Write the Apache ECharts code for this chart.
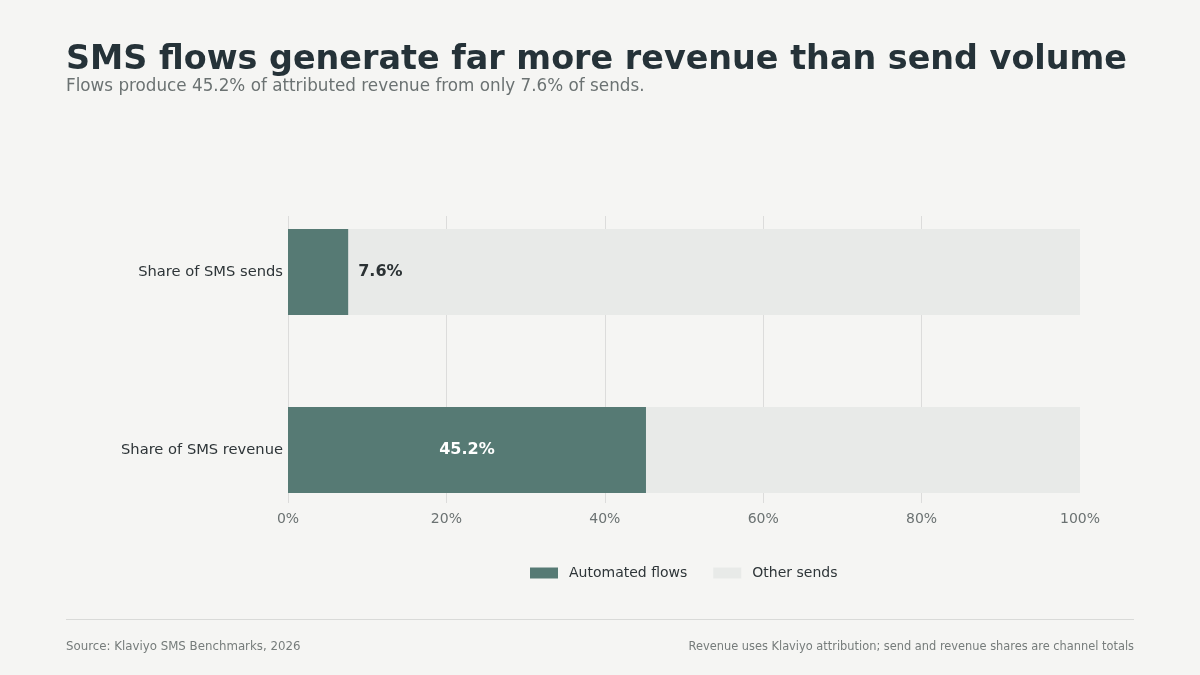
<!DOCTYPE html>
<html>
<head>
<meta charset="utf-8">
<script src="https://cdn.jsdelivr.net/npm/echarts@6/dist/echarts.min.js"></script>
<style>
  html, body { margin: 0; padding: 0; background: #f5f5f3; }
  #chart { width: 1200px; height: 675px; }
</style>
</head>
<body>
<div id="chart"></div>
<script>
var categories = ['Share of SMS sends', 'Share of SMS revenue'];
var flowShare = [7.6, 45.2];
var otherShare = [92.4, 54.8];
var xTicks = [0, 20, 40, 60, 80, 100];

var font = 'DejaVu Sans, sans-serif';
var dark = '#253238';
var grey = '#6b7272';

var myChart = echarts.init(document.getElementById('chart'));

var option = {
  backgroundColor: '#f5f5f3',
  animation: false,
  textStyle: { fontFamily: font },
  title: [
    {
      text: 'SMS flows generate far more revenue than send volume',
      left: 66, top: 44, padding: 0,
      textStyle: { fontSize: 33.4, fontWeight: 'bold', color: dark, fontFamily: font }
    },
    {
      text: 'Flows produce 45.2% of attributed revenue from only 7.6% of sends.',
      left: 66, top: 78, padding: 0,
      textStyle: { fontSize: 16.8, fontWeight: 'normal', color: grey, fontFamily: font }
    },
    {
      text: 'Source: Klaviyo SMS Benchmarks, 2026',
      left: 66, top: 641, padding: 0,
      textStyle: { fontSize: 11.8, fontWeight: 'normal', color: '#767c7b', fontFamily: font }
    },
    {
      text: 'Revenue uses Klaviyo attribution; send and revenue shares are channel totals',
      right: 66, top: 642, padding: 0,
      textStyle: { fontSize: 11.4, fontWeight: 'normal', color: '#767c7b', fontFamily: font }
    }
  ],
  graphic: [
    {
      type: 'line',
      shape: { x1: 66, y1: 619.5, x2: 1134, y2: 619.5 },
      style: { stroke: '#d9dad8', lineWidth: 1 }
    }
  ],
  legend: {
    left: 530, top: 566, padding: 0,
    itemWidth: 28, itemHeight: 11, itemGap: 26,
    icon: 'rect',
    textStyle: { fontSize: 14, color: '#2e3538', fontFamily: font, padding: [0, 0, 0, 6] },
    data: ['Automated flows', 'Other sends']
  },
  grid: [
    // bars sit on the category ticks
    { left: 288, right: 120, top: 272, bottom: 225 },
    // taller grid that only carries the vertical gridlines
    { left: 288, right: 120, top: 216, bottom: 172 }
  ],
  xAxis: [
    {
      type: 'value', gridIndex: 0,
      min: xTicks[0], max: xTicks[xTicks.length - 1], interval: 20,
      axisLine: { show: false },
      axisTick: { show: false },
      axisLabel: { formatter: '{value}%', fontSize: 14, color: grey, margin: 62, fontFamily: font },
      splitLine: { show: false }
    },
    {
      type: 'value', gridIndex: 1,
      min: xTicks[0], max: xTicks[xTicks.length - 1], interval: 20,
      axisLine: { show: false },
      axisTick: { show: false },
      axisLabel: { show: false },
      splitLine: { show: true, showMaxLine: false, lineStyle: { color: '#dcdcdb', width: 1 } }
    }
  ],
  yAxis: [
    {
      type: 'category', gridIndex: 0,
      inverse: true,
      boundaryGap: false,
      data: categories,
      axisLine: { show: false },
      axisTick: { show: false },
      axisLabel: { fontSize: 14.7, color: '#2e3538', margin: 5, fontFamily: font }
    },
    {
      type: 'category', gridIndex: 1,
      data: categories,
      show: false
    }
  ],
  series: [
    {
      name: 'Automated flows',
      type: 'bar',
      stack: 'share',
      barWidth: 86,
      z: 3,
      itemStyle: { color: '#567a74' },
      data: [
        {
          value: flowShare[0],
          label: { show: true, position: 'right', distance: 10, color: '#2b3234', fontSize: 16, fontWeight: 'bold', formatter: '{c}%' }
        },
        {
          value: flowShare[1],
          label: { show: true, position: 'inside', color: '#ffffff', fontSize: 16, fontWeight: 'bold', formatter: '{c}%' }
        }
      ]
    },
    {
      name: 'Other sends',
      type: 'bar',
      stack: 'share',
      barWidth: 86,
      z: 2,
      itemStyle: { color: '#e8eae8' },
      data: otherShare
    }
  ]
};

myChart.setOption(option);
</script>
</body>
</html>
